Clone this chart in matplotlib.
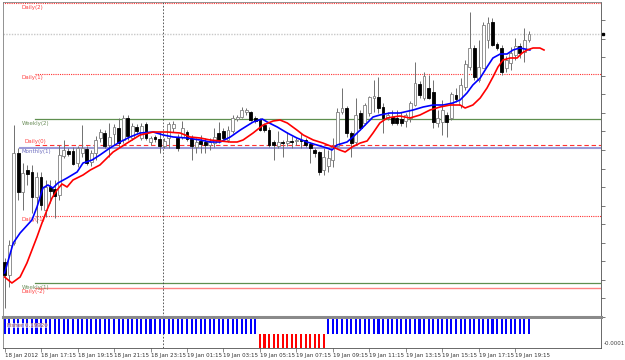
import numpy as np
import matplotlib.pyplot as plt
from matplotlib.ticker import FixedLocator

# EURUSD M15, 18 Jan 2012 15:15 -> 19 Jan 2012 20:00 (points above an arbitrary base)
opens = [58, 45, 77, 167, 128, 150, 148, 123, 143, 110,
         133, 131, 125, 164, 169, 169, 157, 167, 171, 158,
         167, 182, 187, 175, 186, 192, 180, 202, 182, 193,
         182, 196, 178, 183, 181, 174, 182, 192, 182, 183,
         188, 181, 173, 179, 178, 175, 177, 187, 189, 180,
         189, 201, 203, 208, 208, 202, 201, 195, 190, 178,
         174, 178, 177, 179, 179, 180, 180, 176, 170, 168,
         150, 154, 160, 174, 208, 212, 187, 178, 207, 197,
         207, 222, 223, 213, 202, 203, 202, 201, 199, 202,
         215, 236, 222, 232, 228, 197, 198, 205, 202, 225,
         215, 233, 253, 272, 240, 252, 280, 298, 276, 272,
         252, 257, 265, 274, 268, 280]
highs = [62, 80, 195, 172, 157, 155, 155, 148, 148, 140,
         140, 140, 175, 180, 172, 173, 174, 195, 174, 170,
         184, 191, 190, 197, 196, 202, 205, 205, 197, 196,
         197, 198, 184, 185, 188, 182, 198, 199, 186, 199,
         190, 185, 182, 185, 182, 182, 192, 198, 192, 194,
         205, 205, 213, 212, 209, 204, 202, 197, 193, 180,
         189, 180, 188, 184, 182, 187, 182, 178, 172, 169,
         172, 170, 182, 212, 232, 214, 189, 222, 210, 217,
         224, 240, 243, 217, 208, 210, 210, 208, 207, 219,
         258, 239, 248, 245, 240, 210, 220, 208, 228, 232,
         242, 260, 308, 275, 280, 298, 303, 302, 278, 275,
         264, 273, 282, 277, 292, 289]
lows = [12, 33, 75, 120, 110, 135, 107, 97, 110, 103,
        117, 102, 120, 162, 164, 155, 153, 163, 155, 154,
        160, 178, 172, 163, 175, 173, 177, 180, 180, 187,
        180, 180, 175, 178, 167, 172, 172, 188, 169, 181,
        179, 160, 167, 167, 167, 170, 173, 177, 179, 178,
        187, 199, 202, 205, 199, 197, 189, 188, 173, 160,
        172, 163, 174, 172, 175, 172, 173, 157, 163, 145,
        145, 148, 153, 173, 206, 183, 163, 175, 190, 195,
        204, 208, 207, 187, 200, 195, 195, 194, 193, 198,
        214, 222, 220, 221, 192, 193, 185, 183, 200, 218,
        212, 230, 250, 240, 238, 252, 272, 274, 270, 245,
        248, 250, 260, 262, 258, 278]
closes = [45, 75, 167, 128, 147, 146, 123, 143, 115, 133,
          129, 124, 165, 170, 166, 156, 172, 172, 157, 167,
          180, 188, 174, 183, 193, 177, 202, 184, 194, 189,
          194, 182, 182, 181, 174, 179, 196, 196, 172, 192,
          181, 174, 178, 176, 175, 178, 183, 180, 182, 190,
          202, 203, 210, 210, 200, 199, 190, 190, 175, 175,
          178, 177, 179, 178, 180, 179, 175, 172, 167, 148,
          163, 162, 174, 208, 212, 187, 177, 205, 192, 215,
          223, 224, 212, 202, 205, 197, 197, 197, 205, 217,
          237, 225, 244, 222, 198, 202, 210, 198, 226, 221,
          235, 256, 272, 243, 253, 295, 297, 275, 272, 248,
          260, 267, 274, 267, 280, 286]

# moving averages (bar position, value)
blue_pos = [0, 1.9, 3.4, 6.0, 7.1, 7.8, 8.4, 9.5, 10.6, 11.7, 13.7, 15.9, 17.2, 19.2,
            20.9, 23.1, 25.3, 27.5, 29.7, 32.6, 34.8, 37.0, 40.0, 42.9, 45.1, 47.3,
            49.5, 51.7, 54.5, 56.5, 57.6, 59.8, 62.0, 64.1, 66.3, 68.5, 70.7, 71.8,
            72.9, 75.1, 76.4, 78.0, 79.5, 80.8, 82.3, 84.5, 86.7, 89.6, 91.8, 94.0,
            96.2, 98.3, 99.9, 101.4, 102.7, 104.3, 105.8, 107.1, 108.7, 110.2,
            111.5, 113.0, 115.2]
blue_val = [47, 77, 87, 100, 113, 123, 132, 135, 132, 137, 142, 148, 157, 160,
            165, 172, 178, 183, 187, 188, 185, 183, 182, 180, 178, 178,
            183, 190, 198, 201, 198, 193, 187, 182, 178, 175, 172, 170,
            175, 178, 183, 190, 197, 203, 205, 207, 207, 210, 213, 215,
            215, 217, 220, 227, 235, 242, 253, 262, 266, 266,
            270, 272, 270]
red_pos = [0, 1.6, 3.4, 4.9, 6.0, 7.1, 8.2, 9.3, 10.4, 11.5, 12.6, 13.7, 15.0, 17.2,
           18.8, 20.9, 23.8, 26.9, 29.7, 32.6, 35.6, 38.5, 40.7, 42.9, 45.1, 47.3,
           49.5, 51.0, 52.3, 54.5, 56.7, 58.9, 60.4, 62.0, 64.1, 65.5, 67.7, 69.8,
           72.0, 73.5, 74.7, 76.2, 78.0, 79.5, 80.8, 82.3, 83.9, 85.2, 86.7, 88.9,
           91.1, 93.3, 95.5, 97.7, 99.9, 101.0, 102.7, 104.3, 105.8, 107.1, 108.2,
           109.3, 110.9, 112.4, 113.5, 114.6, 115.9, 117.4, 118.3]
red_val = [43, 37, 43, 57, 70, 83, 97, 110, 122, 130, 136, 133, 140, 145,
           150, 155, 168, 177, 185, 188, 188, 187, 183, 182, 180, 179,
           178, 178, 180, 187, 195, 199, 200, 197, 190, 185, 180, 177,
           173, 170, 168, 173, 177, 179, 187, 197, 202, 203, 204, 202,
           205, 210, 213, 215, 215, 212, 215, 222, 232, 243, 253,
           260, 262, 262, 267, 270, 272, 272, 270]

# pivot levels
level_names = ['Daily(2)', 'Daily(1)', 'Weekly(2)', 'Daily(0)', 'Monthly(1)',
               'Daily(-1)', 'Weekly(1)', 'Daily(-2)']
level_values = [317, 246, 201, 175, 172, 104, 37, 32]
bid = 286

# trend histogram (+1 up / -1 down)
trend = [1] * 56 + [-1] * 15 + [1] * 45

tick_labels = ['18 Jan 2012', '18 Jan 17:15', '18 Jan 19:15', '18 Jan 21:15',
               '18 Jan 23:15', '19 Jan 01:15', '19 Jan 03:15', '19 Jan 05:15',
               '19 Jan 07:15', '19 Jan 09:15', '19 Jan 11:15', '19 Jan 13:15',
               '19 Jan 15:15', '19 Jan 17:15', '19 Jan 19:15']
day_sep = 34.8

n = len(opens)
x = np.arange(n)
o, h, l, c = map(np.array, (opens, highs, lows, closes))
up = c >= o

fig = plt.figure(figsize=(6.25, 3.6), dpi=100)
fig.patch.set_facecolor('white')
ax = fig.add_axes([3 / 625, 1 - 317 / 360, 598 / 625, 315 / 360])
ax2 = fig.add_axes([3 / 625, 1 - 348 / 360, 598 / 625, 29 / 360])

xlim = (-0.35, 130.8)

# levels
lstyle = {
    'Daily(2)': dict(color='#ff3030', ls=(0, (1, 1)), lw=0.8, start=-1),
    'Daily(1)': dict(color='#ff3030', ls=(0, (1, 1)), lw=0.8, start=6.7),
    'Weekly(2)': dict(color='#5f8f4f', ls='-', lw=0.9, start=6.7),
    'Daily(0)': dict(color='#ff3030', ls=(0, (4, 2.5)), lw=0.8, start=6.7),
    'Monthly(1)': dict(color='#9a9ad8', ls='-', lw=1.5, start=3.4),
    'Daily(-1)': dict(color='#ff3030', ls=(0, (1, 1)), lw=0.8, start=6.7),
    'Weekly(1)': dict(color='#5f8f4f', ls='-', lw=0.9, start=6.7),
    'Daily(-2)': dict(color='#ff8080', ls='-', lw=1.0, start=6.7),
}
txt_col = {'Daily': '#ff4040', 'Weekly': '#6b8e5a', 'Monthly': '#7070c0'}
for name, val in zip(level_names, level_values):
    s = lstyle[name]
    ax.plot([s['start'], xlim[1]], [val, val], color=s['color'], ls=s['ls'],
            lw=s['lw'], zorder=1)
    if name == 'Daily(0)':
        # label sits just above its line so it doesn't run into Monthly(1)
        ax.text(4.4, val + 0.5, name, fontsize=4, va='bottom', ha='left',
                color=txt_col['Daily'], zorder=4)
    else:
        ax.text(3.8, val - 1.5, name, fontsize=4, va='top', ha='left',
                color=txt_col[name.split('(')[0]], zorder=4)
ax.axhline(bid, color='#c8c8c8', ls=(0, (1, 1)), lw=1.0, zorder=1)

# candles
ax.vlines(x, l, h, color='#707070', lw=0.7, zorder=2)
ax.bar(x[up], (c - o)[up], bottom=o[up], width=0.62, facecolor='white',
       edgecolor='#808080', lw=0.6, zorder=3)
ax.bar(x[~up], (c - o)[~up], bottom=o[~up], width=0.62, facecolor='black',
       edgecolor='black', lw=0.6, zorder=3)

# moving averages
ax.plot(blue_pos, blue_val, color='#0000ff', lw=1.2, zorder=5)
ax.plot(red_pos, red_val, color='#ff0000', lw=1.2, zorder=5)

ax.axvline(day_sep, color='#404040', ls=(0, (2, 2)), lw=0.6, zorder=1)
ax2.axvline(day_sep, color='#404040', ls=(0, (2, 2)), lw=0.6, zorder=1)

ax.set_xlim(*xlim)
ax.set_ylim(3, 318)
ax.set_xticks([])
ax.yaxis.tick_right()
ax.yaxis.set_major_locator(FixedLocator(np.arange(3, 318, 18.56)))
ax.tick_params(axis='y', length=3, width=0.6, color='#606060', labelright=False)

# bid marker on the price scale
ax.plot([131.2], [bid], marker='s', ms=2, color='black', clip_on=False)

# trend panel
tr = np.array(trend)
ax2.bar(x, tr, width=0.45, color=np.where(tr > 0, '#0000ff', '#ff0000'), zorder=2)
ax2.set_xlim(*xlim)
ax2.set_ylim(-1, 1)
ax2.set_yticks([])
ax2.text(0.5, 0.55, 'Fisher 0.19920', fontsize=4, color='#a05050', va='center',
         ha='left', zorder=4,
         bbox=dict(facecolor='white', edgecolor='none', alpha=0.6, pad=0.3))
ax2.text(1.005, -0.7, '-0.0001', transform=ax2.get_yaxis_transform(),
         fontsize=4, color='#404040', va='center', ha='left')

ax2.set_xticks(np.arange(0, len(tick_labels) * 8, 8))
ax2.set_xticklabels(tick_labels, fontsize=4, ha='left', color='#303030')
ax2.tick_params(axis='x', length=3, width=0.5, pad=0.5, color='#606060')

for a in (ax, ax2):
    for sp in a.spines.values():
        sp.set_color('#808080')
        sp.set_linewidth(0.6)
ax.spines['bottom'].set_linewidth(2.2)
ax.spines['bottom'].set_color('#8a8a8a')
ax2.spines['top'].set_linewidth(0)
ax.spines['right'].set_color('#505050')
ax2.spines['right'].set_color('#505050')
ax2.spines['bottom'].set_color('#505050')

fig.savefig('out.png', dpi=100)
